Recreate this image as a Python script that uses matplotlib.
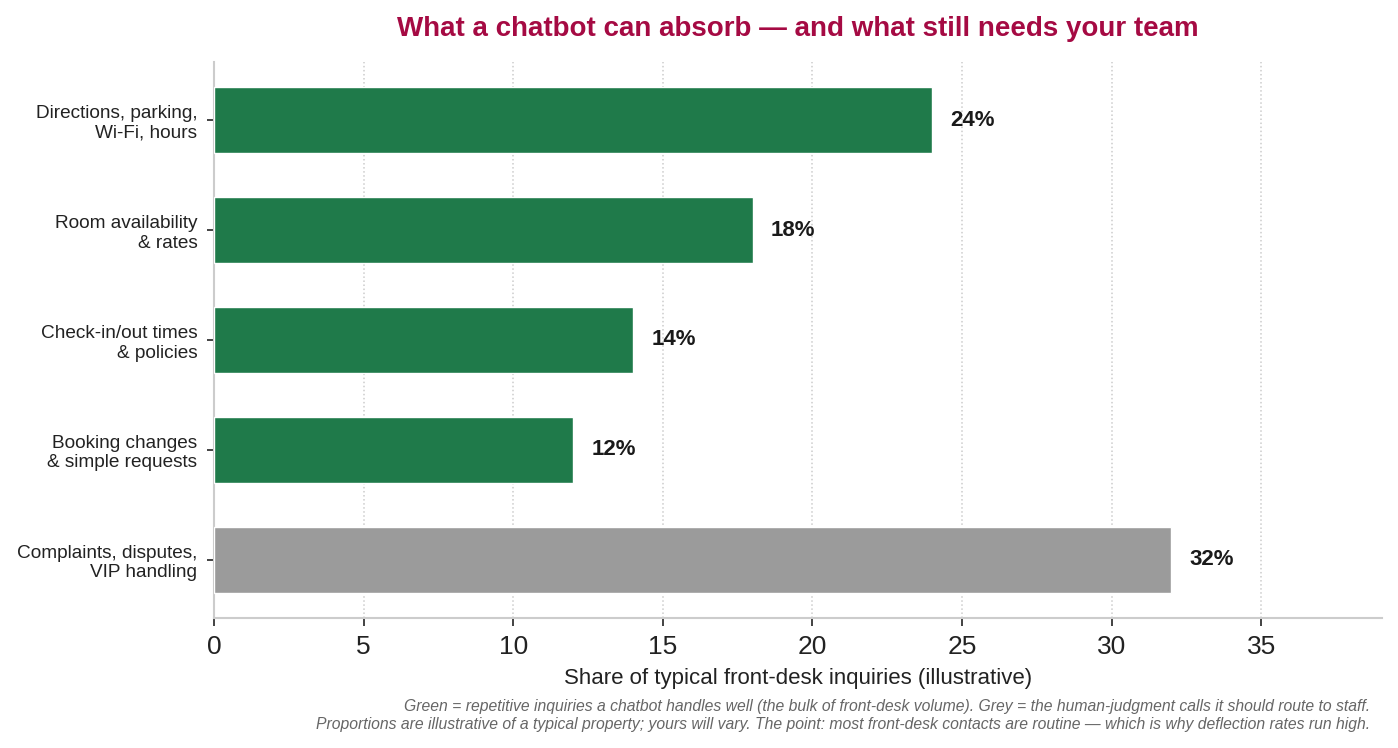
import matplotlib
matplotlib.use("Agg")
import matplotlib.pyplot as plt

plt.rcParams["font.family"] = ["Liberation Sans", "DejaVu Sans"]

categories = [
    "Directions, parking,\nWi-Fi, hours",
    "Room availability\n& rates",
    "Check-in/out times\n& policies",
    "Booking changes\n& simple requests",
    "Complaints, disputes,\nVIP handling",
]
shares = [24, 18, 14, 12, 32]
automatable = [True, True, True, True, False]

GREEN = "#1f7a4a"
GREY = "#9b9b9b"
TITLE_RED = "#a50a43"

fig = plt.figure(figsize=(13.98, 7.48), dpi=100)
ax = fig.add_axes([214 / 1398, 1 - 618 / 748, (1382 - 214) / 1398, (618 - 62) / 748])

ypos = list(range(len(categories)))[::-1]
colors = [GREEN if a else GREY for a in automatable]
ax.barh(ypos, shares, height=0.6, color=colors, edgecolor="white", linewidth=1, zorder=3)

for y, v in zip(ypos, shares):
    ax.text(v + 0.62, y, f"{v}%", va="center", ha="left",
            fontsize=16, fontweight="bold", color="#1a1a1a")

ax.set_yticks(ypos)
ax.set_yticklabels(categories, fontsize=13.7, color="#222222")
ax.set_xlim(0, 39.04)
ax.set_xticks(range(0, 40, 5))
ax.tick_params(axis="x", labelsize=19, length=6, width=1.2, color="#222222", labelcolor="#222222", pad=6)
ax.tick_params(axis="y", length=5, width=1.2, color="#222222", pad=7)

ax.grid(axis="x", linestyle=":", color="#cccccc", linewidth=1.1, zorder=0)
ax.set_axisbelow(True)
for side in ["top", "right"]:
    ax.spines[side].set_visible(False)
for side in ["left", "bottom"]:
    ax.spines[side].set_color("#cccccc")
    ax.spines[side].set_linewidth(1.5)

ax.set_xlabel("Share of typical front-desk inquiries (illustrative)", fontsize=16, color="#222222", labelpad=7)
ax.set_title("What a chatbot can absorb \u2014 and what still needs your team",
             fontsize=20, fontweight="bold", color=TITLE_RED, pad=19)

fig.text(1370 / 1398, 1 - 707 / 748,
         "Green = repetitive inquiries a chatbot handles well (the bulk of front-desk volume). "
         "Grey = the human-judgment calls it should route to staff.",
         ha="right", va="center", fontsize=11.35, style="italic", color="#666666")
fig.text(1370 / 1398, 1 - 725 / 748,
         "Proportions are illustrative of a typical property; yours will vary. The point: most "
         "front-desk contacts are routine \u2014 which is why deflection rates run high.",
         ha="right", va="center", fontsize=11.35, style="italic", color="#666666")

fig.savefig("out.png", dpi=100)
